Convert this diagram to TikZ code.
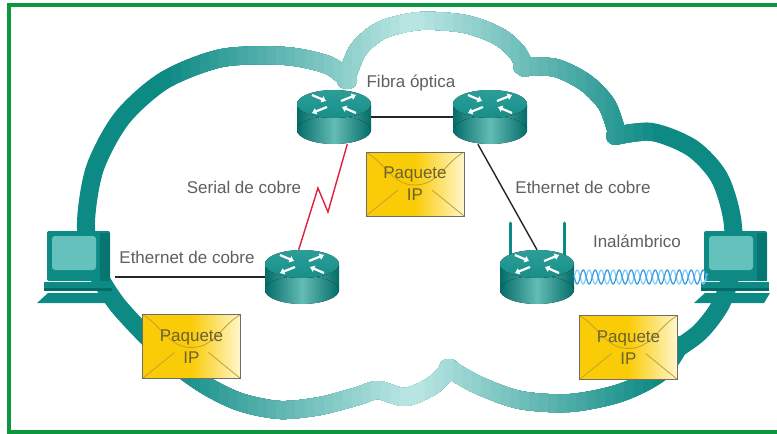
\documentclass[tikz,border=0pt]{standalone}
\usepackage{fontspec}
\setmainfont{Liberation Sans}
\usepackage{tikz}
\usepackage{xcolor}
\usetikzlibrary{arrows.meta, calc, positioning}

\pgfdeclarelayer{back}
\pgfsetlayers{back,main}

\definecolor{boxgreen}{RGB}{12,150,62}
\definecolor{tealdark}{RGB}{14,138,133}
\definecolor{teallight}{RGB}{184,229,226}
\definecolor{rtop}{RGB}{24,142,137}
\definecolor{rtoplight}{RGB}{44,158,152}
\definecolor{rside}{RGB}{4,108,104}
\definecolor{rshine}{RGB}{100,188,182}
\definecolor{screen}{RGB}{100,193,187}
\definecolor{labelgray}{RGB}{95,95,95}
\definecolor{serialred}{RGB}{222,32,62}
\definecolor{envyellow}{RGB}{250,204,8}
\definecolor{envlight}{RGB}{255,246,204}
\definecolor{envline}{RGB}{196,160,44}
\definecolor{envborder}{RGB}{112,110,100}
\definecolor{envtext}{RGB}{108,98,48}
\definecolor{wavedark}{RGB}{58,160,228}
\definecolor{wavelight}{RGB}{140,204,240}

% outline of the cloud, one smooth piece per lobe
\newcommand\cloudline{%
  plot[smooth] coordinates {(150,340) (116,303) (92,262) (86,222) (95,168) (122,118) (165,80) (222,58) (285,56) (328,65) (348,80)}
  plot[smooth] coordinates {(346,80) (358,50) (382,30) (420,21) (465,24) (498,36) (517,52) (525,68)}
  plot[smooth] coordinates {(522,66) (556,68) (586,83) (607,105) (617,133)}
  plot[smooth] coordinates {(615,136) (652,132) (692,148) (719,177) (732,218) (733,262) (722,302) (700,332) (672,352)}
  plot[smooth] coordinates {(680,345) (660,373) (620,393) (570,403) (520,400) (478,385) (448,368)}
  plot[smooth] coordinates {(450,368) (432,386) (405,397) (378,390) (358,396) (320,406) (280,410) (240,402) (205,385) (170,360) (150,340)}}

\tikzset{
  cloudrim/.style={line width=18pt, line cap=round, line join=round},
  lbl/.style={text=labelgray, font=\fontsize{17}{20}\selectfont, anchor=base, inner sep=0pt},
  cable/.style={black!85, line width=1.4pt},
  serialline/.style={serialred, line width=1.4pt, line join=miter},
  radio/.style={line width=1.3pt},
  antenna/.style={tealdark, line width=3pt, line cap=round},
  xarrow/.style={white, line width=2.2pt, -{Triangle[length=4.5pt,width=6.5pt]}},
  router/.style={minimum width=74pt, minimum height=54pt, inner sep=0pt,
    path picture={
      \begin{scope}[shift={(path picture bounding box.center)}]
        \fill[left color=rside, right color=rside, middle color=rshine] (-37,-13) rectangle (37,13);
        \fill[left color=rside, right color=rside, middle color=rshine] (0,13) ellipse [x radius=37, y radius=14];
        \fill[top color=rtoplight, bottom color=rtop] (0,-13) ellipse [x radius=37, y radius=14];
        \draw[xarrow] (-22,-22) -- (-8,-16);
        \draw[xarrow] (22,-4) -- (8,-10);
        \draw[xarrow] (7,-16) -- (22,-22);
        \draw[xarrow] (-7,-10) -- (-22,-4);
      \end{scope}}},
  pc/.style={minimum width=78pt, minimum height=76pt, inner sep=0pt,
    path picture={
      \begin{scope}[shift={(path picture bounding box.center)}]
        \fill[tealdark, rounded corners=2pt] (-29,-35) rectangle (34,15);
        \fill[rside!70!tealdark] (24,-33) rectangle (34,15);
        \fill[screen, rounded corners=3pt] (-24,-30) rectangle (20,4);
        \fill[tealdark] (-32,16) rectangle (36,25);
        \fill[rside] (-32,22) rectangle (36,25);
        \fill[tealdark] (-28,27) -- (37,27) -- (31,37) -- (-39,37) -- cycle;
      \end{scope}}},
  paquete/.style={draw=envborder, line width=1pt, minimum width=98pt, minimum height=64pt,
    left color=envyellow, right color=envlight, middle color=envyellow,
    text=envtext, align=center, font=\fontsize{17}{22}\selectfont,
    path picture={
      \draw[envline, line width=.8pt] (path picture bounding box.north west) to[out=-30, in=180]
        ($(path picture bounding box.center)+(0,1)$) to[out=0, in=-150] (path picture bounding box.north east);
      \draw[envline, line width=.8pt] (path picture bounding box.south west) -- ($(path picture bounding box.center)+(-17,6)$);
      \draw[envline, line width=.8pt] (path picture bounding box.south east) -- ($(path picture bounding box.center)+(17,6)$);
    }},
}

\begin{document}
\begin{tikzpicture}[x=1pt, y=-1pt]
\useasboundingbox (0,0) rectangle (777,434);
\draw[boxgreen, line width=4pt] (790,5) -- (9,5) -- (9,432) -- (790,432);

\begin{pgfonlayer}{back}
  \draw[cloudrim, color=tealdark] \cloudline;
  \foreach \i in {1,...,25} {
    \pgfmathsetmacro\w{250-9.5*\i}
    \pgfmathtruncatemacro\p{4*\i}
    \begin{scope}
      \clip (412-\w,-10) rectangle (412+\w,450);
      \draw[cloudrim, color=teallight!\p!tealdark] \cloudline;
    \end{scope}
  }
\end{pgfonlayer}

\node[router] (r1) at (334,117) {};
\node[router] (r2) at (490,117) {};
\node[router] (r3) at (302,277) {};
\node[router] (r4) at (537,277) {};
\begin{pgfonlayer}{back}
  \draw[antenna] ([xshift=-27pt]r4.center) -- ++(0,-54);
  \draw[antenna] ([xshift=27pt]r4.center) -- ++(0,-54);
\end{pgfonlayer}

\node[pc] (pc1) at (76,266) {};
\node[pc] (pc2) at (733,266) {};

\node[paquete] (ip1) at (191.5,346.5) {Paquete\\IP};
\node[paquete] (ip2) at (415,184) {Paquete\\IP};
\node[paquete] (ip3) at (628.5,347.5) {Paquete\\IP};

\node[lbl] (fibra) at (411,87) {Fibra óptica};
\node[lbl] (serial) at (244,193) {Serial de cobre};
\node[lbl] (eth2) at (583,193) {Ethernet de cobre};
\node[lbl] (eth1) at (187,263) {Ethernet de cobre};
\node[lbl] (wifi) at (637,247) {Inalámbrico};

\draw[cable] (r1.east) -- (r2.west);
\draw[cable] (r2.-114) -- (r4.north);
\draw[cable] (r3.west -| pc1.east) -- (r3.west);
\coordinate (mid) at ($(r1.-64)!.5!(r3.97)$);
\draw[serialline] (r1.-64) -- ($(mid)+(5,15)$) -- ($(mid)+(-5,-9)$) -- (r3.97);

\draw[radio, wavelight, shift={(r4.east)}] plot[domain=0:133, samples=260] (\x, {-7*sin(30*\x)});
\draw[radio, wavedark, shift={(r4.east)}] plot[domain=0:133, samples=260] (\x, {7*sin(30*\x)});
\end{tikzpicture}
\end{document}
